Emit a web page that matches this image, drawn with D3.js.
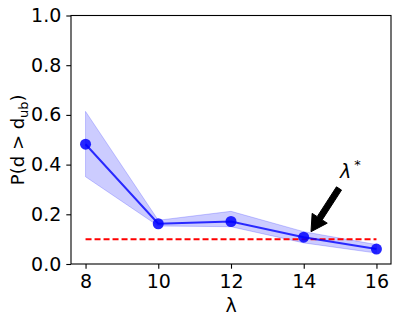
<!DOCTYPE html>
<html>
<head>
<meta charset="utf-8">
<script src="https://cdn.jsdelivr.net/npm/d3@7"></script>
<style>
  body { margin: 0; background: #fff; }
  text { font-family: "DejaVu Sans", sans-serif; }
</style>
</head>
<body>
<svg id="chart" width="399" height="323"></svg>
<script>
// data
const lambdas = [8, 10, 12, 14, 16];
const prob = [0.482, 0.162, 0.171, 0.108, 0.060];
const probLow = [0.351, 0.153, 0.150, 0.085, 0.044];
const probHigh = [0.614, 0.176, 0.212, 0.130, 0.078];
const threshold = 0.1;
const xTicks = [8, 10, 12, 14, 16];
const yTicks = [0, 0.2, 0.4, 0.6, 0.8, 1.0];
const arrowTip = [14.2, 0.13];
const arrowTail = [14.97, 0.304];
const labelPos = [15.0, 0.345];

const svg = d3.select("#chart");
const margin = {left: 71, right: 8, top: 15.5, bottom: 59};
const W = 399, H = 323;

const x = d3.scaleLinear().domain([7.6, 16.4]).range([margin.left, W - margin.right]);
const y = d3.scaleLinear().domain([0, 1]).range([H - margin.bottom, margin.top]);

// shaded band
const area = d3.area()
  .x((d, i) => x(lambdas[i]))
  .y0((d, i) => y(probLow[i]))
  .y1((d, i) => y(probHigh[i]));
svg.append("path")
  .datum(prob)
  .attr("d", area)
  .attr("fill", "blue")
  .attr("fill-opacity", 0.2)
  .attr("stroke", "blue")
  .attr("stroke-opacity", 0.2)
  .attr("stroke-width", 1);

// threshold line
svg.append("line")
  .attr("x1", x(8)).attr("x2", x(16))
  .attr("y1", y(threshold)).attr("y2", y(threshold))
  .attr("stroke", "red")
  .attr("stroke-width", 2)
  .attr("stroke-dasharray", "6,3");

// main line + markers
const line = d3.line()
  .x((d, i) => x(lambdas[i]))
  .y(d => y(d));
svg.append("path")
  .datum(prob)
  .attr("d", line)
  .attr("fill", "none")
  .attr("stroke", "blue")
  .attr("stroke-opacity", 0.8)
  .attr("stroke-width", 2);

svg.selectAll(".pt")
  .data(prob)
  .enter()
  .append("circle")
  .attr("class", "pt")
  .attr("cx", (d, i) => x(lambdas[i]))
  .attr("cy", d => y(d))
  .attr("r", 5.5)
  .attr("fill", "blue")
  .attr("fill-opacity", 0.85);

// arrow annotation
const tx = x(arrowTip[0]), ty = y(arrowTip[1]);
const sx = x(arrowTail[0]), sy = y(arrowTail[1]);
const ang = Math.atan2(ty - sy, tx - sx);
const len = Math.hypot(tx - sx, ty - sy);
const headLen = 16, headW = 9, shaftW = 3;
const pts = [
  [0, -shaftW], [len - headLen, -shaftW], [len - headLen, -headW],
  [len, 0], [len - headLen, headW], [len - headLen, shaftW], [0, shaftW]
].map(([u, v]) => [sx + u * Math.cos(ang) - v * Math.sin(ang), sy + u * Math.sin(ang) + v * Math.cos(ang)]);
svg.append("polygon")
  .attr("points", pts.map(p => p.join(",")).join(" "))
  .attr("fill", "black")
  .attr("stroke", "black")
  .attr("stroke-width", 1);

const lbl = svg.append("text")
  .attr("x", x(labelPos[0]))
  .attr("y", y(labelPos[1]))
  .attr("font-size", 19)
  .attr("fill", "black");
lbl.append("tspan").attr("font-style", "italic").text("λ");
lbl.append("tspan").attr("font-size", 13).attr("dx", 3).attr("dy", -9).text("*");

// axes
const xAxis = svg.append("g")
  .attr("transform", `translate(0,${H - margin.bottom})`)
  .call(d3.axisBottom(x).tickValues(xTicks).tickSize(4.7).tickPadding(6).tickFormat(d3.format("d")));
const yAxis = svg.append("g")
  .attr("transform", `translate(${margin.left},0)`)
  .call(d3.axisLeft(y).tickValues(yTicks).tickSize(4.7).tickPadding(5).tickFormat(d3.format(".1f")));
[xAxis, yAxis].forEach(g => {
  g.selectAll("text").attr("font-size", 19).attr("font-family", "DejaVu Sans").attr("fill", "black");
  g.selectAll("line").attr("stroke", "black").attr("stroke-width", 1.1);
  g.select(".domain").remove();
});

// frame
svg.append("rect")
  .attr("x", margin.left).attr("y", margin.top)
  .attr("width", W - margin.right - margin.left)
  .attr("height", H - margin.bottom - margin.top)
  .attr("fill", "none")
  .attr("stroke", "black")
  .attr("stroke-width", 1.1);

// axis labels
svg.append("text")
  .attr("x", x(12))
  .attr("y", 312)
  .attr("text-anchor", "middle")
  .attr("font-size", 19)
  .text("λ");

const yl = svg.append("text")
  .attr("transform", `translate(24,${(margin.top + H - margin.bottom) / 2}) rotate(-90)`)
  .attr("text-anchor", "middle")
  .attr("font-size", 18);
yl.append("tspan").text("P(d > d");
yl.append("tspan").attr("font-size", 13).attr("dy", 4).text("ub");
yl.append("tspan").attr("dy", -4).text(")");
</script>
</body>
</html>
